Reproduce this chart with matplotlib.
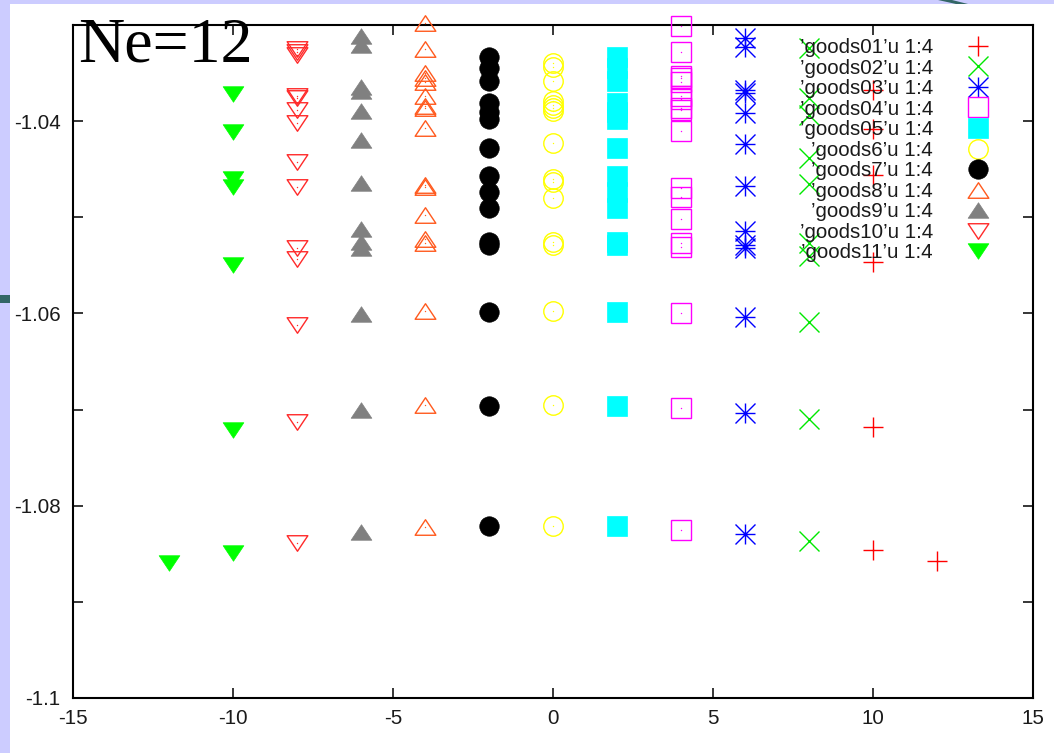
import matplotlib
matplotlib.use("Agg")
import matplotlib.pyplot as plt
from matplotlib.path import Path
from matplotlib.patches import Rectangle, Polygon
from matplotlib.lines import Line2D

plt.rcParams["font.family"] = ["Liberation Sans", "DejaVu Sans"]
plt.rcParams["axes.unicode_minus"] = False

# ---- data: energy levels per angular momentum column ----
x01 = [10, 10, 10, 10, 10, 10, 12]
y01 = [-1.0368, -1.0408, -1.0456, -1.0547, -1.0718, -1.0846, -1.0857]

x02 = [8] * 10
y02 = [-1.0324, -1.0376, -1.0394, -1.0438, -1.0465, -1.0527, -1.0540,
       -1.0609, -1.0710, -1.0837]

x03 = [6] * 13
y03 = [-1.0314, -1.0323, -1.0368, -1.0371, -1.0392, -1.0424, -1.0467,
       -1.0514, -1.0529, -1.0532, -1.0604, -1.0704, -1.0829]

x04 = [4] * 18
y04 = [-1.0301, -1.0328, -1.0353, -1.0355, -1.0359, -1.0374, -1.0377,
       -1.0386, -1.0388, -1.0410, -1.0470, -1.0479, -1.0502, -1.0527,
       -1.0531, -1.0600, -1.0698, -1.0825]

x05 = [2] * 15
y05 = [-1.0333, -1.0345, -1.0358, -1.0381, -1.0390, -1.0398, -1.0428,
       -1.0457, -1.0474, -1.0490, -1.0526, -1.0529, -1.0598, -1.0696,
       -1.0821]

x6 = [0] * 16
y6 = [-1.0340, -1.0344, -1.0358, -1.0379, -1.0383, -1.0386, -1.0389,
      -1.0423, -1.0460, -1.0463, -1.0480, -1.0526, -1.0529, -1.0597,
      -1.0695, -1.0821]

x7 = [-2] * 15
y7 = [-1.0333, -1.0345, -1.0358, -1.0381, -1.0390, -1.0398, -1.0428,
      -1.0457, -1.0474, -1.0490, -1.0526, -1.0529, -1.0598, -1.0696,
      -1.0821]

x8 = [-4] * 17
y8 = [-1.0298, -1.0325, -1.0350, -1.0355, -1.0359, -1.0374, -1.0384,
      -1.0386, -1.0407, -1.0466, -1.0469, -1.0498, -1.0523, -1.0527,
      -1.0597, -1.0695, -1.0822]

x9 = [-6] * 13
y9 = [-1.0311, -1.0321, -1.0364, -1.0369, -1.0389, -1.0420, -1.0464,
      -1.0512, -1.0526, -1.0532, -1.0601, -1.0700, -1.0827]

x10 = [-8] * 14
y10 = [-1.0325, -1.0328, -1.0331, -1.0374, -1.0376, -1.0388, -1.0402,
       -1.0442, -1.0468, -1.0532, -1.0543, -1.0612, -1.0713, -1.0839]

x11 = [-10, -10, -10, -10, -10, -10, -10, -12]
y11 = [-1.0372, -1.0411, -1.0460, -1.0468, -1.0550, -1.0721, -1.0849,
       -1.0860]

labels = ["’goods01’u 1:4", "’goods02’u 1:4", "’goods03’u 1:4",
          "’goods04’u 1:4", "’goods05’u 1:4", "’goods6’u 1:4",
          "’goods7’u 1:4", "’goods8’u 1:4", "’goods9’u 1:4",
          "’goods10’u 1:4", "’goods11’u 1:4"]

xticks = [-15, -10, -5, 0, 5, 10, 15]
yticks = [-1.1, -1.08, -1.06, -1.04]
yticks_minor = [-1.09, -1.07, -1.05]

# ---- marker shapes ----
M, L, C = Path.MOVETO, Path.LINETO, Path.CLOSEPOLY
tri_up = Path([(-1, -0.75), (1, -0.75), (0, 0.75), (-1, -0.75)], [M, L, L, C])
tri_dn = Path([(-1, 0.75), (1, 0.75), (0, -0.75), (-1, 0.75)], [M, L, L, C])
star = Path([(-1, 0), (1, 0), (0, -1), (0, 1), (-1, -1), (1, 1), (-1, 1), (1, -1)],
            [M, L, M, L, M, L, M, L])

# (x, y, color, marker, size, filled, centre dot)
styles = [
    (x01, y01, "#FF0000", "+", 14.9, False, False),
    (x02, y02, "#00E800", "x", 14.4, False, False),
    (x03, y03, "#0000FF", star, 14.4, False, False),
    (x04, y04, "#FF00FF", "s", 13.9, False, True),
    (x05, y05, "#00FFFF", "s", 13.7, True, False),
    (x6, y6, "#FFFF00", "o", 14.0, False, True),
    (x7, y7, "#000000", "o", 14.0, True, False),
    (x8, y8, "#FF5A1E", tri_up, 14.9, False, True),
    (x9, y9, "#808080", tri_up, 14.9, True, False),
    (x10, y10, "#FF2A2A", tri_dn, 14.9, False, True),
    (x11, y11, "#00FF00", tri_dn, 14.9, True, False),
]

W, H = 1054, 753
fig = plt.figure(figsize=(W / 100, H / 100), dpi=100, facecolor="#CCCCFF")

# slide page and accents
fig.add_artist(Rectangle((10 / W, 0), 1 - 10 / W, (H - 4) / H,
                         transform=fig.transFigure, facecolor="white",
                         edgecolor="none", zorder=-5))
fig.add_artist(Rectangle((0, (H - 303) / H), 10 / W, 8 / H,
                         transform=fig.transFigure, facecolor="#336666",
                         edgecolor="none", zorder=-4))
fig.add_artist(Polygon([(938 / W, 1), (952 / W, 1), (968 / W, (H - 4) / H),
                        (956 / W, (H - 4) / H)], closed=True,
                       transform=fig.transFigure, facecolor="#336666",
                       edgecolor="none", zorder=-4))

ax = fig.add_axes([73 / W, (H - 698) / H, (1033 - 73) / W, (698 - 25) / H])
ax.set_facecolor("white")

handles = []
for (xs, ys, col, mk, ms, filled, dot), lab in zip(styles, labels):
    kw = dict(ls="none", marker=mk, ms=ms, color=col,
              mec=col, mfc=col if filled else "none",
              mew=0.5 if filled else 1.0)
    ax.plot(xs, ys, clip_on=False, zorder=3, **kw)
    if dot:
        ax.plot(xs, ys, ls="none", marker="o", ms=1.0, color=col,
                mew=0, clip_on=False, zorder=3)
    handles.append(Line2D([], [], **kw))

ax.set_xlim(-15, 15)
ax.set_ylim(-1.1, -1.03)
ax.set_xticks(xticks)
ax.set_xticklabels([str(v) for v in xticks])
ax.set_yticks(yticks)
ax.set_yticklabels(["-1.1", "-1.08", "-1.06", "-1.04"])
ax.set_yticks(yticks_minor, minor=True)
ax.tick_params(which="both", direction="in", top=True, right=True,
               length=7.2, width=1.1, color="black")
ax.tick_params(axis="x", labelsize=14.8, pad=8, labelcolor="#1a1a1a")
ax.tick_params(axis="y", labelsize=14.8, pad=9, labelcolor="#1a1a1a")
for sp in ax.spines.values():
    sp.set_linewidth(1.5)
    sp.set_color("black")

leg = ax.legend(handles, labels, loc="upper right",
                bbox_to_anchor=(998.5 / W, (H - 38) / H),
                bbox_transform=fig.transFigure, markerfirst=False,
                frameon=False, fontsize=14.8, labelspacing=0.075,
                handlelength=2.0, handletextpad=1.19, borderpad=0,
                borderaxespad=0, numpoints=1)
for t in leg.get_texts():
    t.set_color("#1a1a1a")

fig.text(78 / W, (H - 61) / H, "Ne=12", fontsize=46,
         family=["Liberation Serif", "DejaVu Serif"], ha="left",
         va="baseline", color="black", zorder=10)

fig.savefig("out.png", dpi=100, facecolor=fig.get_facecolor())
